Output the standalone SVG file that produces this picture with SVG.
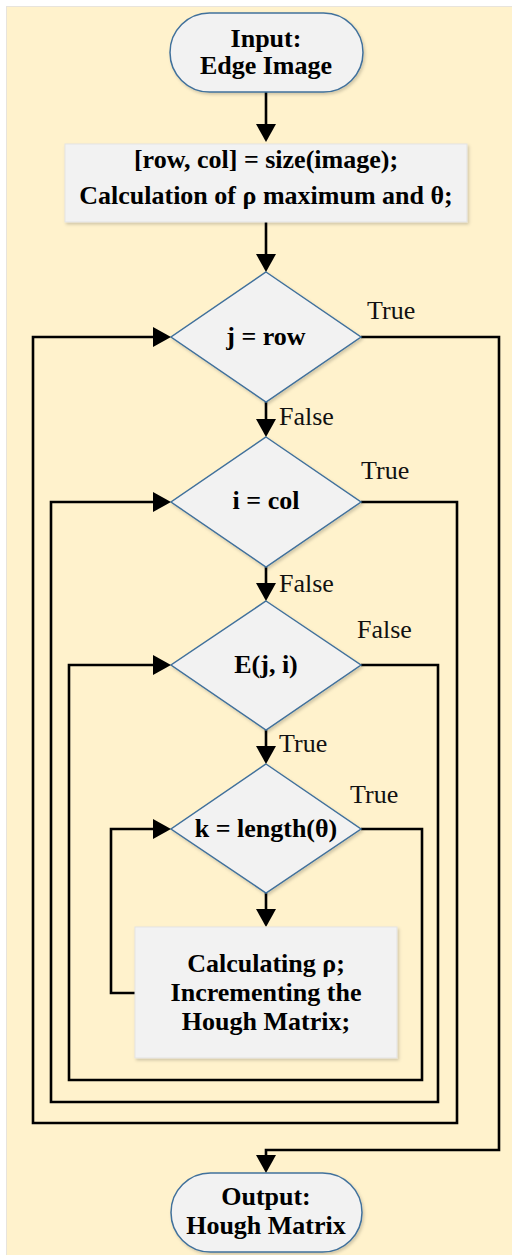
<svg xmlns="http://www.w3.org/2000/svg" width="512" height="1255" viewBox="0 0 512 1255">
  <defs>
    <style>
      .bg { fill: #FFF2CC; }
      .term { fill: #F2F2F2; stroke: #41719C; stroke-width: 1.5; }
      .dia { fill: #F2F2F2; stroke: #41719C; stroke-width: 1.5; }
      .box { fill: #F2F2F2; stroke: #E3E3E3; stroke-width: 1; }
      .t { font-family: "Liberation Serif", "Times New Roman", serif; font-weight: bold; font-size: 26px; fill: #000; text-anchor: middle; }
      .lbl { font-family: "Liberation Serif", "Times New Roman", serif; font-size: 26px; fill: #111; }
      .conn { fill: none; stroke: #000; stroke-width: 2.6; stroke-linejoin: miter; }
    </style>
    <marker id="ah" markerUnits="userSpaceOnUse" markerWidth="20" markerHeight="20" viewBox="0 0 18 20" refX="14" refY="10" orient="auto">
      <path d="M0,0 L18,10 L0,20 Z" fill="#000"/>
    </marker>
    <filter id="sh" x="-10%" y="-10%" width="130%" height="130%">
      <feDropShadow dx="1.5" dy="2" stdDeviation="1.5" flood-color="#000" flood-opacity="0.18"/>
    </filter>
  </defs>

  <rect x="0" y="0" width="512" height="1255" fill="#FFFFFF"/>
  <rect x="6" y="6" width="506" height="1249" fill="#E8E4DC"/>
  <rect class="bg" x="7" y="7" width="505" height="1248"/>

  <g id="connectors">
    <path class="conn" d="M266,92 L266,138" marker-end="url(#ah)"/>
    <path class="conn" d="M266,222 L266,268" marker-end="url(#ah)"/>
    <path class="conn" d="M266,402 L266,433" marker-end="url(#ah)"/>
    <path class="conn" d="M266,567 L266,597" marker-end="url(#ah)"/>
    <path class="conn" d="M266,730 L266,760" marker-end="url(#ah)"/>
    <path class="conn" d="M266,893 L266,923" marker-end="url(#ah)"/>
    <path class="conn" d="M361,337 L499,337 L499,1150 L266,1150 L266,1169" marker-end="url(#ah)"/>
    <path class="conn" d="M361,502 L457,502 L457,1123 L33,1123 L33,337 L167,337" marker-end="url(#ah)"/>
    <path class="conn" d="M361,665 L438,665 L438,1102 L51,1102 L51,502 L167,502" marker-end="url(#ah)"/>
    <path class="conn" d="M361,829 L422,829 L422,1080 L69,1080 L69,665 L167,665" marker-end="url(#ah)"/>
    <path class="conn" d="M135,993 L111,993 L111,829 L167,829" marker-end="url(#ah)"/>
  </g>

  <g id="labels">
    <text class="lbl" x="367" y="319">True</text>
    <text class="lbl" x="279" y="425">False</text>
    <text class="lbl" x="361" y="479">True</text>
    <text class="lbl" x="279" y="592">False</text>
    <text class="lbl" x="357" y="638">False</text>
    <text class="lbl" x="279" y="752">True</text>
    <text class="lbl" x="350" y="803">True</text>
  </g>

  <g id="start">
    <rect class="term" x="170" y="13" width="193" height="79" rx="39.5" ry="39.5" filter="url(#sh)"/>
    <text class="t" x="266" y="47">Input:</text>
    <text class="t" x="266" y="74">Edge Image</text>
  </g>

  <g id="init">
    <rect class="box" x="65" y="144" width="402" height="78" filter="url(#sh)"/>
    <text class="t" x="266" y="168">[row, col] = size(image);</text>
    <text class="t" x="266" y="204">Calculation of ρ maximum and θ;</text>
  </g>

  <g id="cond-j">
    <polygon class="dia" points="266,272 361,337 266,402 171,337" filter="url(#sh)"/>
    <text class="t" x="266" y="345">j = row</text>
  </g>

  <g id="cond-i">
    <polygon class="dia" points="266,437 361,502 266,567 171,502" filter="url(#sh)"/>
    <text class="t" x="266" y="509">i = col</text>
  </g>

  <g id="cond-e">
    <polygon class="dia" points="266,601 361,665 266,730 171,665" filter="url(#sh)"/>
    <text class="t" x="266" y="673">E(j, i)</text>
  </g>

  <g id="cond-k">
    <polygon class="dia" points="266,764 361,829 266,893 171,829" filter="url(#sh)"/>
    <text class="t" x="266" y="837">k = length(θ)</text>
  </g>

  <g id="calc">
    <rect class="box" x="135" y="927" width="262" height="131" filter="url(#sh)"/>
    <text class="t" x="266" y="972">Calculating ρ;</text>
    <text class="t" x="266" y="1001">Incrementing the</text>
    <text class="t" x="266" y="1030">Hough Matrix;</text>
  </g>

  <g id="end">
    <rect class="term" x="171" y="1173" width="191" height="79" rx="39.5" ry="39.5" filter="url(#sh)"/>
    <text class="t" x="266" y="1205">Output:</text>
    <text class="t" x="266" y="1234">Hough Matrix</text>
  </g>
</svg>
